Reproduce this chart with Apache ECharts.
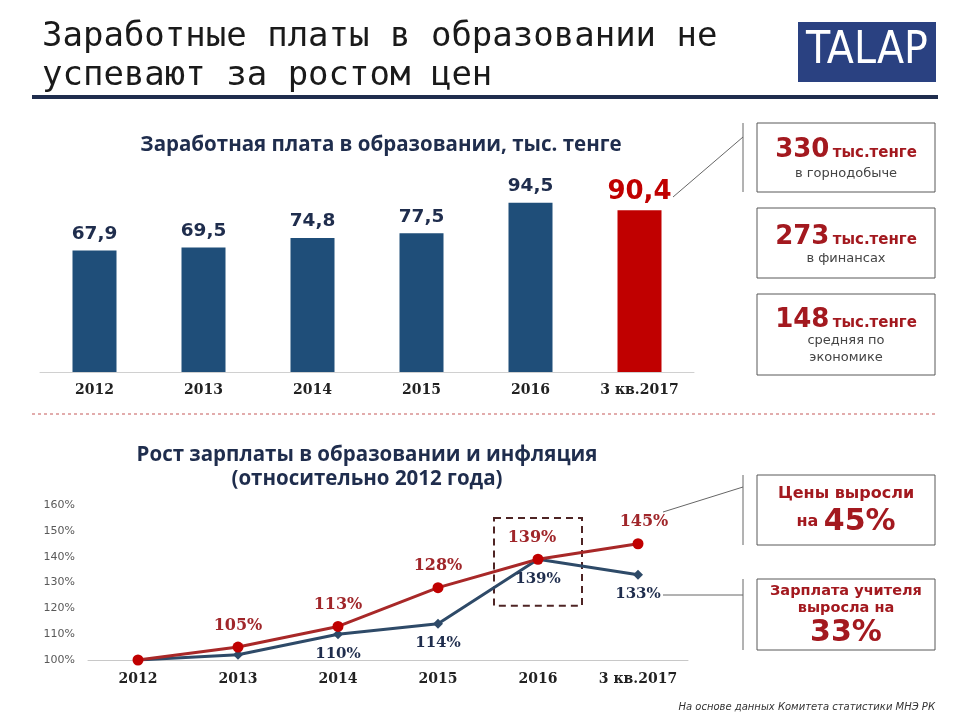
<!DOCTYPE html>
<html><head><meta charset="utf-8">
<script src="https://cdn.jsdelivr.net/npm/echarts@6/dist/echarts.min.js"></script>
<style>html,body{margin:0;padding:0;background:#fff}#c{width:960px;height:720px}</style>
</head><body><div id="c"></div>
<script>
var categories = ['2012', '2013', '2014', '2015', '2016', '3 кв.2017'];
var salaryValues = [67.9, 69.5, 74.8, 77.5, 94.5, 90.4];
var inflationIndex = [100, 105, 113, 128, 139, 145];
var wageIndex = [100, 102, 110, 114, 139, 133];
var pctTicks = [100, 110, 120, 130, 140, 150, 160];
var highlightBox = [[4, 121, 155]]; // category index, y from, y to

var NAVY = '#1f4e79', RED = '#c00000', DARK = '#1f2d4d', DRED = '#a3191f';
var serif = '"DejaVu Serif", serif';
var sans = '"DejaVu Sans", sans-serif';

var chart = echarts.init(document.getElementById('c'), null, {renderer: 'canvas'});

var barData = salaryValues.map(function (v, i) {
  var last = i === salaryValues.length - 1;
  return {
    value: v,
    itemStyle: {color: last ? RED : NAVY},
    label: last ? {fontSize: 26, color: RED, distance: 5} : {}
  };
});

var redData = inflationIndex.map(function (v, i) {
  return {value: v, label: {show: i > 0, offset: i === 4 ? [-6, 0] : (i === 5 ? [6, 0] : [0, 0])}};
});
var blueData = wageIndex.map(function (v, i) {
  return {value: v, label: {show: i > 1}};
});

function boxText(x, y, rich, text) {
  return {type: 'text', x: x, y: y, style: {text: text, align: 'center', verticalAlign: 'middle', rich: rich}};
}
var boxRich = {
  big: {fontFamily: sans, fontWeight: 'bold', fontSize: 26, fill: DRED, color: DRED},
  unit: {fontFamily: sans, fontWeight: 'bold', fontSize: 15, fill: DRED, color: DRED, padding: [6, 0, 0, 0]},
  sub: {fontFamily: sans, fontSize: 13, fill: '#444', color: '#444'}
};
var calloutRich = {
  t: {fontFamily: sans, fontWeight: 'bold', fontSize: 16, fill: DRED, color: DRED},
  s: {fontFamily: sans, fontWeight: 'bold', fontSize: 14.5, fill: DRED, color: DRED},
  big: {fontFamily: sans, fontWeight: 'bold', fontSize: 30, fill: DRED, color: DRED}
};
function rect(x, y, w, h) {
  return {type: 'rect', shape: {x: x, y: y, width: w, height: h}, style: {fill: '#fff', stroke: '#595959', lineWidth: 1}};
}
function line(x1, y1, x2, y2) {
  return {type: 'line', shape: {x1: x1, y1: y1, x2: x2, y2: y2}, style: {stroke: '#666', lineWidth: 1}};
}

var option = {
  animation: false,
  backgroundColor: '#fff',
  grid: [
    {left: 40, width: 654, top: 193, height: 179},
    {left: 88, width: 600, top: 505, height: 155}
  ],
  xAxis: [
    {gridIndex: 0, type: 'category', data: categories,
     axisLine: {lineStyle: {color: '#d0d0d0'}}, axisTick: {show: false},
     axisLabel: {interval: 0, fontFamily: serif, fontWeight: 'bold', fontSize: 14, color: '#222', margin: 11}},
    {gridIndex: 1, type: 'category', data: categories,
     axisLine: {lineStyle: {color: '#c8c8c8'}}, axisTick: {show: false},
     axisLabel: {interval: 0, fontFamily: serif, fontWeight: 'bold', fontSize: 14, color: '#222', margin: 12}}
  ],
  yAxis: [
    {gridIndex: 0, type: 'value', min: 0, max: 100, show: false},
    {gridIndex: 1, type: 'value', min: pctTicks[0], max: pctTicks[pctTicks.length - 1], interval: 10,
     axisLine: {show: false}, axisTick: {show: false}, splitLine: {show: false},
     axisLabel: {formatter: '{value}%', fontFamily: sans, fontSize: 11, color: '#595959', margin: 13}}
  ],
  series: [
    {type: 'bar', xAxisIndex: 0, yAxisIndex: 0, barWidth: 44, data: barData,
     label: {show: true, position: 'top', distance: 7, fontFamily: sans, fontWeight: 'bold', fontSize: 18.5, color: DARK,
       formatter: function (p) { return String(p.value).replace('.', ','); }}},
    {type: 'custom', xAxisIndex: 1, yAxisIndex: 1, data: highlightBox, silent: true, z: 1,
     renderItem: function (params, api) {
       var p1 = api.coord([api.value(0), api.value(2)]);
       var p2 = api.coord([api.value(0), api.value(1)]);
       var w = api.size([1, 0])[0] * 0.88;
       return {type: 'rect', shape: {x: p1[0] - w / 2, y: p1[1], width: w, height: p2[1] - p1[1]},
         style: {fill: 'none', stroke: '#4e2424', lineWidth: 2, lineDash: [7, 5]}};
     }},
    {type: 'line', xAxisIndex: 1, yAxisIndex: 1, data: blueData, z: 3,
     lineStyle: {color: '#2e4a68', width: 3}, itemStyle: {color: '#2e4a68'},
     symbol: 'diamond', symbolSize: 10,
     label: {position: 'bottom', distance: 7, fontFamily: serif, fontWeight: 'bold', fontSize: 15, color: DARK, formatter: '{c}%'}},
    {type: 'line', xAxisIndex: 1, yAxisIndex: 1, data: redData, z: 4,
     lineStyle: {color: '#a82828', width: 3}, itemStyle: {color: RED},
     symbol: 'circle', symbolSize: 11,
     label: {position: 'top', distance: 8, fontFamily: serif, fontWeight: 'bold', fontSize: 16, color: '#a0262a', formatter: '{c}%'}}
  ],
  graphic: [
    {type: 'text', x: 42, y: 37, style: {text: 'Заработные платы в образовании не', fontFamily: '"DejaVu Sans Mono", monospace', fontSize: 34, fill: '#1a1a1a', verticalAlign: 'middle'}},
    {type: 'text', x: 42, y: 76, style: {text: 'успевают за ростом цен', fontFamily: '"DejaVu Sans Mono", monospace', fontSize: 34, fill: '#1a1a1a', verticalAlign: 'middle'}},
    {type: 'rect', shape: {x: 32, y: 95, width: 906, height: 4}, style: {fill: '#1f2d4d'}},
    {type: 'rect', shape: {x: 798, y: 22, width: 138, height: 60}, style: {fill: '#2a4181'}},
    {type: 'text', x: 867, y: 52, style: {text: 'TALAP', fontFamily: '"Liberation Sans Narrow", "DejaVu Sans Condensed", sans-serif', fontSize: 44, fill: '#fff', align: 'center', verticalAlign: 'middle'}},
    {type: 'text', x: 381, y: 145, style: {text: 'Заработная плата в образовании, тыс. тенге', fontFamily: '"Open Sans", sans-serif', fontWeight: 'bold', fontSize: 20.5, fill: DARK, align: 'center', verticalAlign: 'middle'}},
    {type: 'line', shape: {x1: 32, y1: 414, x2: 935, y2: 414}, style: {stroke: '#c55a5a', lineWidth: 1, lineDash: [3, 3]}},
    {type: 'text', x: 367, y: 455, style: {text: 'Рост зарплаты в образовании и инфляция', fontFamily: '"Open Sans", sans-serif', fontWeight: 'bold', fontSize: 20.5, fill: DARK, align: 'center', verticalAlign: 'middle'}},
    {type: 'text', x: 367, y: 479, style: {text: '(относительно 2012 года)', fontFamily: '"Open Sans", sans-serif', fontWeight: 'bold', fontSize: 20.5, fill: DARK, align: 'center', verticalAlign: 'middle'}},
    line(743, 123, 743, 192), line(673, 197, 743, 137),
    rect(757, 123, 178, 69), rect(757, 208, 178, 70), rect(757, 294, 178, 81),
    boxText(846, 150, boxRich, '{big|330} {unit|тыс.тенге}'),
    boxText(846, 174, boxRich, '{sub|в горнодобыче}'),
    boxText(846, 237, boxRich, '{big|273} {unit|тыс.тенге}'),
    boxText(846, 259, boxRich, '{sub|в финансах}'),
    boxText(846, 320, boxRich, '{big|148} {unit|тыс.тенге}'),
    boxText(846, 341, boxRich, '{sub|средняя по}'),
    boxText(846, 358, boxRich, '{sub|экономике}'),
    line(743, 475, 743, 545), line(663, 512, 743, 487),
    line(743, 579, 743, 650), line(663, 595, 743, 595),
    rect(757, 475, 178, 70), rect(757, 579, 178, 71),
    boxText(846, 494, calloutRich, '{t|Цены выросли}'),
    boxText(846, 522, calloutRich, '{t|на }{big|45%}'),
    boxText(846, 591, calloutRich, '{s|Зарплата учителя}'),
    boxText(846, 608, calloutRich, '{s|выросла на}'),
    boxText(846, 633, calloutRich, '{big|33%}'),
    {type: 'text', x: 935, y: 707, style: {text: 'На основе данных Комитета статистики МНЭ РК', fontFamily: sans, fontStyle: 'italic', fontSize: 10, fill: '#333', align: 'right', verticalAlign: 'middle'}}
  ]
};
chart.setOption(option);
</script></body></html>
